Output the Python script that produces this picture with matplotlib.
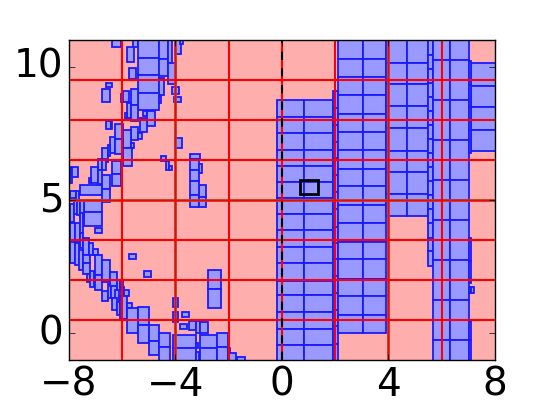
import matplotlib
matplotlib.use("Agg")
import matplotlib.pyplot as plt
from matplotlib.patches import Rectangle

plt.style.use('classic')

# split lines of the partition
hlines = [0.5, 2, 3.5, 5, 6.5, 8, 9.5]
vlines = [-6, -4, -2, 0, 2, 4, 6]
dark_h = [5]
dark_v = [-4, 4]
dash_v = [0]

# column boxes on the right
col_a_x = [[-0.18, 0.84], [0.84, 1.93]]
col_a_y = [8.76, 8.11, 7.51, 6.87, 6.28, 5.68, 5.06, 4.46, 3.86, 3.22, 2.62, 1.96, 1.42, 0.79, 0.18, -0.43, -1.02]
col_n_x = [[1.93, 2.11]]
col_n_y = [9.10, 8.45, 7.82, 7.17, 6.57, 5.94, 5.29, 4.66, 4.0, 3.39, 2.77, 2.14, 1.50, 0.89, 0.26, -0.39, -1.02]
col_b_x = [[2.12, 3.03], [3.03, 3.89]]
col_b_y = [11.2, 10.3, 9.62, 8.95, 8.23, 7.54, 6.86, 6.15, 5.51, 4.83, 4.12, 3.43, 2.77, 2.05, 1.39, 0.70, 0.03]
col_c_x = [[3.89, 4.71], [4.71, 5.50]]
col_c_y = [11.2, 10.14, 9.35, 8.52, 7.71, 6.85, 6.04, 5.21, 4.41]
col_d_x = [[5.50, 5.67]]
col_d_y = [11.2, 10.45, 9.92, 9.39, 8.86, 8.33, 7.81, 7.28, 6.75, 6.23, 5.70, 5.17, 4.65, 4.12, 3.59, 3.07, 2.53]
col_e_x = [[5.67, 6.32], [6.32, 7.02]]
col_e_y = [11.2, 10.25, 9.51, 8.76, 8.01, 7.26, 6.50, 5.75, 5.0, 4.25, 3.5, 2.75, 2.0, 1.24, 0.49, -0.26, -1.02]
col_f_x = [[7.10, 8.2]]
col_f_y = [10.14, 9.29, 8.47, 7.61, 6.82]
col_g_x = [[7.02, 7.10]]
col_g_y = [10.22, 9.3, 8.47, 7.61, 6.75]
col_h_y = [3.56, 2.73, 1.9]
col_i_y = [0.45, -0.26, -1.02]

# loose boxes on the left: x0, x1, y0, y1
boxes = [
    (-6.39, -6.04, 10.72, 11.2), (-5.82, -5.56, 10.17, 10.72), (-5.57, -5.41, 10.72, 11.2),
    (-5.40, -4.62, 10.32, 11.2), (-5.40, -4.62, 9.67, 10.32), (-4.62, -4.29, 10.3, 11.2),
    (-4.62, -4.29, 9.64, 10.3), (-4.27, -4.12, 10.14, 11.2), (-4.27, -3.97, 9.35, 10.14),
    (-4.00, -3.79, 10.47, 11.2), (-3.82, -3.72, 10.85, 11.2), (-5.75, -5.46, 9.54, 9.95),
    (-5.40, -4.62, 9.0, 9.67), (-4.62, -4.43, 8.92, 9.58), (-5.40, -4.62, 8.38, 9.0),
    (-4.62, -4.54, 8.64, 8.89), (-4.11, -3.87, 8.97, 9.24), (-4.06, -3.79, 8.68, 8.86),
    (-6.61, -6.37, 9.24, 9.39), (-6.76, -6.46, 8.68, 9.17), (-6.05, -5.97, 8.68, 8.99),
    (-5.97, -5.74, 8.68, 9.08), (-5.65, -5.41, 8.58, 9.18), (-5.81, -5.65, 8.08, 8.64),
    (-5.65, -5.41, 7.98, 8.58), (-5.90, -5.81, 8.08, 8.26), (-5.20, -5.06, 8.14, 8.35),
    (-5.06, -4.77, 7.78, 8.35), (-5.32, -5.06, 7.55, 8.08), (-6.61, -6.43, 7.66, 7.95),
    (-6.43, -6.37, 7.66, 7.95), (-6.27, -5.98, 7.28, 7.85), (-5.65, -5.41, 7.25, 7.73),
    (-5.41, -5.26, 7.30, 7.50), (-5.96, -5.65, 6.95, 7.61), (-6.46, -6.27, 6.76, 7.35),
    (-6.27, -5.97, 6.73, 7.29), (-5.65, -5.55, 6.95, 7.14), (-5.96, -5.62, 6.29, 6.95),
    (-6.76, -6.54, 6.43, 6.95), (-6.54, -6.46, 6.64, 7.08), (-4.01, -3.74, 6.95, 7.33),
    (-4.55, -4.36, 6.46, 6.65), (-4.36, -4.25, 6.13, 6.46), (-4.25, -4.14, 6.13, 6.28),
    (-6.91, -6.76, 6.11, 6.52), (-6.76, -6.62, 6.11, 6.52), (-6.39, -6.05, 5.98, 6.46),
    (-6.39, -6.05, 5.51, 5.98), (-6.76, -6.46, 5.41, 5.95), (-7.16, -6.91, 5.64, 6.23),
    (-6.91, -6.76, 5.61, 6.11), (-7.97, -7.87, 5.64, 6.23), (-7.87, -7.66, 5.85, 6.23),
    (-7.25, -7.16, 5.64, 5.83), (-7.58, -6.76, 5.2, 5.58), (-6.76, -6.46, 4.95, 5.43),
    (-7.97, -7.72, 5.07, 5.35), (-7.72, -7.6, 4.89, 5.35),
    (-3.43, -3.08, 6.55, 6.71), (-3.43, -3.10, 6.13, 6.55), (-3.10, -2.99, 6.0, 6.35),
    (-3.43, -3.10, 5.7, 6.13), (-3.10, -2.85, 5.1, 5.58), (-3.43, -3.10, 5.2, 5.7),
    (-3.43, -3.10, 4.75, 5.2), (-3.10, -2.85, 4.72, 5.1),
    (-7.41, -6.75, 4.56, 5.0), (-7.41, -6.75, 4.02, 4.56), (-6.75, -6.45, 4.92, 5.0),
    (-7.97, -7.81, 4.16, 4.85), (-7.81, -7.7, 4.47, 5.0), (-7.7, -7.57, 4.44, 5.0),
    (-7.57, -7.41, 4.38, 5.0), (-7.02, -6.75, 3.75, 3.94),
    (-7.97, -7.75, 3.5, 4.13), (-7.97, -7.75, 2.65, 3.44), (-7.75, -7.57, 3.44, 4.13),
    (-7.57, -7.45, 3.75, 4.5), (-7.57, -7.45, 3.19, 3.75), (-7.45, -7.25, 2.94, 3.56),
    (-7.75, -7.6, 2.56, 3.38), (-7.6, -7.45, 2.38, 3.13), (-7.45, -7.22, 2.63, 2.94),
    (-7.25, -7.1, 2.94, 3.38), (-7.1, -6.91, 2.94, 3.15), (-7.45, -7.19, 2.23, 2.63),
    (-7.32, -7.19, 1.94, 2.23), (-7.19, -7.05, 1.75, 2.35), (-7.02, -6.76, 2.19, 2.94),
    (-7.02, -6.76, 1.63, 2.19), (-6.76, -6.46, 1.94, 2.75),
    (-6.76, -6.54, 1.23, 1.6), (-6.54, -6.41, 1.31, 1.85), (-6.46, -6.2, 1.78, 2.31),
    (-6.41, -6.2, 1.31, 1.78), (-6.2, -6.06, 1.63, 2.0), (-6.25, -6.1, 1.1, 1.63),
    (-6.06, -5.97, 1.73, 2.0), (-6.04, -5.91, 1.44, 1.73), (-5.91, -5.74, 1.41, 1.63),
    (-6.39, -6.2, 0.88, 1.31), (-6.2, -6.07, 0.69, 1.19), (-6.07, -5.82, 0.53, 1.4),
    (-5.82, -5.64, 0.94, 1.13), (-5.82, -5.41, 0.5, 0.94), (-5.41, -5.0, 0.31, 1.0),
    (-5.82, -5.41, 0.03, 0.5), (-5.41, -5.0, -0.38, 0.31),
    (-5.0, -4.62, -0.28, 0.31), (-5.0, -4.62, -0.81, -0.28), (-4.62, -4.2, -0.5, 0.0),
    (-4.62, -4.2, -1.02, -0.5), (-4.1, -3.22, -0.56, -0.06), (-4.1, -3.22, -1.02, -0.56),
    (-3.22, -3.15, -0.56, -0.38), (-3.22, -3.1, -1.02, -0.69), (-3.09, -2.45, -0.56, -0.06),
    (-3.09, -2.45, -1.02, -0.56), (-2.45, -2.01, -0.53, 0.0), (-2.45, -2.01, -1.02, -0.53),
    (-2.01, -1.95, -0.81, -0.56), (-2.01, -1.72, -1.02, -0.73), (-1.68, -1.39, -1.02, -0.9),
    (-4.1, -3.89, 1.0, 1.31), (-4.1, -3.89, 0.44, 0.81), (-3.74, -3.5, 0.63, 0.81),
    (-3.81, -3.57, 0.15, 0.35), (-3.49, -3.22, 0.13, 0.45), (-3.22, -3.09, 0.03, 0.45),
    (-3.09, -2.79, 0.0, 0.41), (-2.79, -2.29, 1.65, 2.38), (-2.79, -2.29, 0.94, 1.65),
    (-5.75, -5.47, 2.8, 2.98), (-5.19, -4.91, 2.13, 2.34),
]

tiny_x = [7.02, 7.10, 7.22]
tiny_y = [1.52, 1.72]
marker_box = (0.68, 1.37, 5.22, 5.75)

fig = plt.figure(figsize=(5.5, 4), dpi=100)
ax = fig.add_subplot(111)
ax.add_patch(Rectangle((-8, -1), 16, 12, facecolor='#ffaeae', edgecolor='none', zorder=0))


def add_box(x0, x1, y0, y1):
    ax.add_patch(Rectangle((x0, y0), x1 - x0, y1 - y0, facecolor='#9999ff',
                           edgecolor='#1a1aff', linewidth=1.3, zorder=1))


for xs, ys in [(col_a_x, col_a_y), (col_n_x, col_n_y), (col_b_x, col_b_y), (col_c_x, col_c_y),
               (col_d_x, col_d_y), (col_e_x, col_e_y), (col_f_x, col_f_y), (col_g_x, col_g_y)]:
    for x0, x1 in xs:
        for y1, y0 in zip(ys[:-1], ys[1:]):
            add_box(x0, x1, y0, y1)

for y1, y0 in zip(col_h_y[:-1], col_h_y[1:]):
    add_box(7.02, 7.10, y0, y1)
for y1, y0 in zip(col_i_y[:-1], col_i_y[1:]):
    add_box(7.02, 7.10, y0, y1)
for x0, x1 in zip(tiny_x[:-1], tiny_x[1:]):
    add_box(x0, x1, tiny_y[0], tiny_y[1])
for b in boxes:
    add_box(*b)

# brown under-lines on the lines that carry a tick
for y in dark_h:
    ax.axhline(y, color='#b04a30', linewidth=2, zorder=1.5)
for x in dark_v:
    ax.axvline(x, color='#b04a30', linewidth=2, zorder=1.5)

for y in hlines:
    ax.axhline(y, color='red', linewidth=1.5 if y not in dark_h else 1, zorder=2)
for x in vlines:
    ax.axvline(x, color='red', linewidth=1.5 if x not in dark_v else 1, zorder=2)
for x in dash_v:
    ax.axvline(x, color='black', linewidth=1.5, linestyle='--', zorder=3)

ax.add_patch(Rectangle((marker_box[0], marker_box[2]), marker_box[1] - marker_box[0],
                       marker_box[3] - marker_box[2], fill=False, edgecolor='black',
                       linewidth=2, zorder=4))

ax.set_xlim(-8, 8)
ax.set_ylim(-1, 11)
ax.set_xticks([-8, -4, 0, 4, 8])
ax.set_yticks([0, 5, 10])
ax.tick_params(labelsize=28)
fig.savefig("out.png", dpi=100)
